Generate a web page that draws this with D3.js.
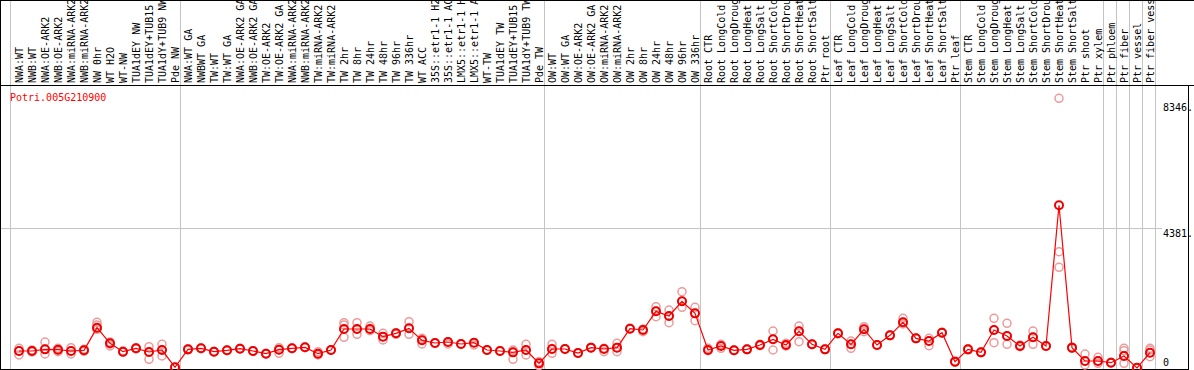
<!DOCTYPE html>
<html><head><meta charset="utf-8">
<script src="https://cdn.jsdelivr.net/npm/d3@7"></script>
<style>
html,body{margin:0;padding:0;background:#fff;}
svg{display:block;}
text{font-family:"DejaVu Sans Mono",monospace;font-size:10px;}
</style></head>
<body>
<script>
const title = "Potri.005G210900";
const labels = ["NWA:WT","NWB:WT","NWA:OE-ARK2","NWB:OE-ARK2","NWA:miRNA-ARK2","NWB:miRNA-ARK2","NW 0hr","WT H2O","WT-NW","TUA1dEY NW","TUA1dEY+TUB15","TUA1dY+TUB9 NW","Pde NW",
"NWA:WT GA","NWBWT GA","TW:WT","TW:WT GA","NWA:OE-ARK2 GA","NWB:OE-ARK2 GA","TW:OE-ARK2","TW:OE-ARK2 GA","NWA:miRNA-ARK2","NWB:miRNA-ARK2","TW:miRNA-ARK2","TW:miRNA-ARK2","TW 2hr","TW 8hr","TW 24hr","TW 48hr","TW 96hr","TW 336hr","WT ACC","35S::etr1-1 H2","35S::etr1-1 AC","LMX5::etr1-1 H","LMX5::etr1-1 A","WT-TW","TUA1dEY TW","TUA1dEY+TUB15","TUA1dY+TUB9 TW","Pde TW",
"OW:WT","OW:WT GA","OW:OE-ARK2","OW:OE-ARK2 GA","OW:miRNA-ARK2","OW:miRNA-ARK2","OW 2hr","OW 8hr","OW 24hr","OW 48hr","OW 96hr","OW 336hr",
"Root CTR","Root LongCold","Root LongDroug","Root LongHeat","Root LongSalt","Root ShortCold","Root ShortDrou","Root ShortHeat","Root ShortSalt","Ptr root",
"Leaf CTR","Leaf LongCold","Leaf LongDroug","Leaf LongHeat","Leaf LongSalt","Leaf ShortCold","Leaf ShortDrou","Leaf ShortHeat","Leaf ShortSalt","Ptr leaf",
"Stem CTR","Stem LongCold","Stem LongDroug","Stem LongHeat","Stem LongSalt","Stem ShortCold","Stem ShortDrou","Stem ShortHeat","Stem ShortSalt","Ptr shoot",
"Ptr xylem","Ptr phloem","Ptr fiber","Ptr vessel","Ptr fiber vess"];

const means = [533,533,585,575,533,554,1265,774,512,617,502,564,21,
585,617,512,554,606,533,449,575,617,648,449,564,1223,1223,1223,983,1087,1244,868,784,815,753,794,564,533,491,564,146,
596,596,470,638,596,638,1233,1192,1777,1631,2091,1714,
564,690,554,585,721,899,721,1150,742,585,
1087,742,1213,721,1024,1432,930,847,1108,199,
585,491,1192,1004,690,962,690,5102,638,220,
220,167,376,5,481];

const replicates = [[617,533,408],[564,533,502],[815,596,439],[617,564,512],[638,533,439],[585,554,523],
[1432,1349,1213],[815,753,690],[533,491],[638,596],[669,502,272],[742,564,376],[21],
[606,564],[627,606],[523,502],[564,544],[617,596],[544,523],[460,439],[638,575,460],[627,606],[659,638],[512,450,408],[575,554],
[1422,1349,962],[1422,1223,1056],[1317,1223,1171],[1087,983,878],[1108,1056],[1453,1244,1056],[930,868,753],[795,774],[826,753],[763,742],[795,721],[575,554],[544,523],[564,491,272],[742,564,408],[199,146,73],
[742,596,460],[606,585],[481,460],[648,627],[617,512],[774,638,512],[1244,1223],[1223,1139],[1923,1777,1610],[1819,1631,1422],[2394,2091,1903],[1903,1714,1484],
[617,544],[742,617],[564,544],[596,575],[742,700],[1160,899,564],[774,690],[1317,1150,826],[753,732],[596,575],
[1108,1066],[847,742,617],[1296,1213,1139],[732,711],[1035,1014],[1558,1432,1380],[941,920],[930,847,700],[1119,1098],[220,178],
[606,564],[502,481],[1558,1192,795],[1401,1004,742],[721,669],[1160,962,742],[700,680],[8458,3647,3158],[659,617],
[439,220,94],[335,220,146],[178,157],[617,544,376,146],[5,0],[617,564,355]];

const tickValues = [0, 4381, 8346];
const tickLabels = ["0", "4381.", "8346."];
const groupEnds = [12, 40, 52, 62, 72, 83, 84, 85, 86, 87];

const W = 1194, H = 370;
const svg = d3.select("body").append("svg").attr("width", W).attr("height", H);

const x = d3.scaleLinear().domain([0, labels.length - 1]).range([19, 1150]);
const y = d3.scaleLinear().domain([0, 4381]).range([368, 228.3]);

const grid = "#c4c4c4";
// vertical group separators
svg.append("line").attr("x1", x(0) - 8.5).attr("x2", x(0) - 8.5).attr("y1", 0).attr("y2", H)
  .attr("stroke", grid).attr("stroke-width", 1);
svg.selectAll("line.vsep").data(groupEnds).enter().append("line").attr("class", "vsep")
  .attr("x1", d => x(d) + 5.5).attr("x2", d => x(d) + 5.5).attr("y1", 0).attr("y2", H)
  .attr("stroke", grid).attr("stroke-width", 1);
// horizontal gridline at middle tick
svg.append("line").attr("x1", 1).attr("x2", 1162).attr("y1", Math.round(y(4381)) + 0.5).attr("y2", Math.round(y(4381)) + 0.5)
  .attr("stroke", grid).attr("stroke-width", 1);

// frame
svg.append("line").attr("x1", 0).attr("x2", W).attr("y1", 0.5).attr("y2", 0.5).attr("stroke", "#000");
svg.append("line").attr("x1", 0).attr("x2", W).attr("y1", 85.5).attr("y2", 85.5).attr("stroke", "#000");
svg.append("line").attr("x1", 0.5).attr("x2", 0.5).attr("y1", 0).attr("y2", H).attr("stroke", "#000");
svg.append("line").attr("x1", 1188.5).attr("x2", 1188.5).attr("y1", 85).attr("y2", H).attr("stroke", "#000");
svg.append("line").attr("x1", 0).attr("x2", 1189).attr("y1", 369.5).attr("y2", 369.5).attr("stroke", "#000");

// column labels (rotated)
svg.selectAll("text.col").data(labels).enter().append("text").attr("class", "col")
  .attr("transform", (d, i) => `translate(${x(i) + 3.5},83) rotate(-90)`)
  .attr("fill", "#000").text(d => d);

// title
svg.append("text").attr("x", 10).attr("y", 100.5).attr("fill", "#ff0000").text(title);

// y tick labels
svg.selectAll("text.tick").data(tickValues).enter().append("text").attr("class", "tick")
  .attr("x", 1163).attr("y", d => Math.min(y(d) + 8.7, 366)).attr("fill", "#000")
  .text((d, i) => tickLabels[i]);

// replicate circles
const repPts = [];
replicates.forEach((arr, i) => arr.forEach(v => repPts.push({i, v})));
svg.selectAll("circle.rep").data(repPts).enter().append("circle").attr("class", "rep")
  .attr("cx", d => x(d.i)).attr("cy", d => y(d.v)).attr("r", 4)
  .attr("fill", "none").attr("stroke", "#ee9a9a").attr("stroke-width", 1.5);

// mean line
const line = d3.line().x((d, i) => x(i)).y(d => y(d));
svg.append("path").datum(means).attr("d", line).attr("fill", "none").attr("stroke", "#ff0000").attr("stroke-width", 1.2);

// mean circles
svg.selectAll("circle.mean").data(means).enter().append("circle").attr("class", "mean")
  .attr("cx", (d, i) => x(i)).attr("cy", d => y(d)).attr("r", 4)
  .attr("fill", "none").attr("stroke", "#ee0000").attr("stroke-width", 2);
</script>
</body></html>
